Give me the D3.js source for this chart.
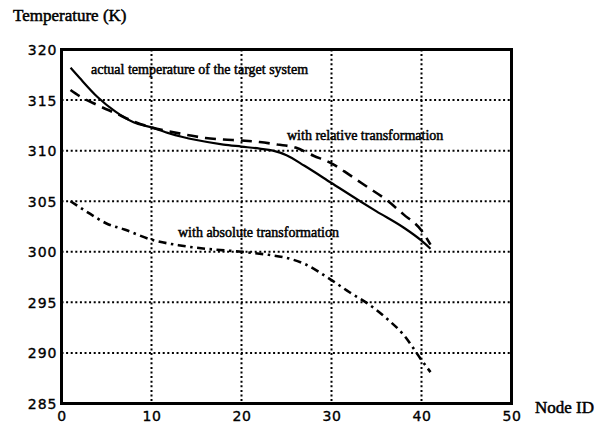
<!DOCTYPE html>
<html>
<head>
<meta charset="utf-8">
<script src="https://cdn.jsdelivr.net/npm/d3@7"></script>
<style>
  html, body { margin: 0; padding: 0; background: #fff; }
  svg { display: block; }
</style>
</head>
<body>
<svg id="chart" width="601" height="423"></svg>
<script>
// ---- data ----
const xTicks = [0, 10, 20, 30, 40, 50];
const yTicks = [285, 290, 295, 300, 305, 310, 315, 320];

const actualX = [1, 2, 4, 6, 8, 10, 12, 15, 18, 20, 22, 23.5, 25, 27, 30, 33, 35, 38, 40, 41];
const actualT = [318.2, 317.2, 315.3, 313.85, 312.8, 312.3, 311.7, 311.05, 310.6, 310.4, 310.2, 310.0, 309.55, 308.5, 306.8, 305.1, 304.0, 302.4, 301.1, 300.3];

const relativeX = [1, 2, 4, 6, 8, 10, 12, 14, 16, 18, 20, 22, 24, 26, 28, 30, 32, 34, 36, 38, 40, 41];
const relativeT = [316.0, 315.4, 314.5, 313.7, 312.9, 312.3, 311.9, 311.55, 311.25, 311.1, 311.0, 310.85, 310.6, 310.3, 309.5, 308.75, 307.6, 306.4, 305.2, 303.7, 302.1, 300.7];

const absoluteX = [1, 3, 5, 7, 10, 13, 16, 20, 23, 25, 27, 30, 32, 34, 36, 38, 40, 41];
const absoluteT = [305.0, 303.85, 302.8, 302.2, 301.2, 300.65, 300.3, 300.0, 299.7, 299.4, 298.8, 297.2, 296.0, 294.9, 293.5, 291.8, 289.3, 288.1];

const labels = {
  yTitle: "Temperature (K)",
  xTitle: "Node ID",
  actual: "actual temperature of the target system",
  relative: "with relative transformation",
  absolute: "with absolute transformation"
};

// ---- drawing ----
const svg = d3.select("#chart");
const x = d3.scaleLinear().domain([0, 50]).range([61.5, 511.5]);
const y = d3.scaleLinear().domain([285, 320]).range([403.5, 49.5]);

const serif = "'Liberation Serif', 'Times New Roman', serif";
const sans = "'DejaVu Sans', sans-serif";

// grid
const g = svg.append("g");
g.selectAll("line.gx").data(xTicks.slice(1, -1)).join("line")
  .attr("x1", d => x(d)).attr("x2", d => x(d))
  .attr("y1", y(320)).attr("y2", y(285))
  .attr("stroke", "#000").attr("stroke-width", 2)
  .attr("stroke-dasharray", "2,2.6");
g.selectAll("line.gy").data(yTicks.slice(1, -1)).join("line")
  .attr("y1", d => y(d)).attr("y2", d => y(d))
  .attr("x1", x(0)).attr("x2", x(50))
  .attr("stroke", "#000").attr("stroke-width", 2)
  .attr("stroke-dasharray", "2,2.6");

// axes via d3 axis (labels only), frame drawn separately
const yAxis = d3.axisLeft(y).tickValues(yTicks).tickSize(0).tickPadding(0).tickFormat(d3.format("d"));
const ya = svg.append("g").attr("transform", `translate(${x(0) - 4},0)`).call(yAxis);
ya.select(".domain").remove();
ya.selectAll("text")
  .attr("font-family", sans).attr("font-size", 14)
  .attr("letter-spacing", "1px")
  .attr("fill", "#000").attr("stroke", "#000").attr("stroke-width", 0.35)
  .attr("dy", "0.36em");

const xAxis = d3.axisBottom(x).tickValues(xTicks).tickSize(0).tickPadding(0).tickFormat(d3.format("d"));
const xa = svg.append("g").attr("transform", `translate(0,${y(285)})`).call(xAxis);
xa.select(".domain").remove();
xa.selectAll("text")
  .attr("font-family", sans).attr("font-size", 14)
  .attr("letter-spacing", "0.5px")
  .attr("fill", "#000").attr("stroke", "#000").attr("stroke-width", 0.35)
  .attr("y", 17).attr("dy", 0);

// frame
svg.append("rect")
  .attr("x", x(0)).attr("y", y(320))
  .attr("width", x(50) - x(0)).attr("height", y(285) - y(320))
  .attr("fill", "none").attr("stroke", "#000").attr("stroke-width", 3);

// lines
const line = d3.line().x(d => x(d[0])).y(d => y(d[1])).curve(d3.curveMonotoneX);
const zip = (xs, ts) => xs.map((v, i) => [v, ts[i]]);

svg.append("path").datum(zip(actualX, actualT))
  .attr("d", line).attr("fill", "none").attr("stroke", "#000").attr("stroke-width", 2.2);
svg.append("path").datum(zip(relativeX, relativeT))
  .attr("d", line).attr("fill", "none").attr("stroke", "#000").attr("stroke-width", 2.6)
  .attr("stroke-dasharray", "11,7");
svg.append("path").datum(zip(absoluteX, absoluteT))
  .attr("d", line).attr("fill", "none").attr("stroke", "#000").attr("stroke-width", 2.6)
  .attr("stroke-dasharray", "8,4.5,2.5,4.5");

// texts
function txt(s, px, py, size, anchor) {
  svg.append("text").attr("x", px).attr("y", py)
    .attr("font-family", serif).attr("font-size", size)
    .attr("text-anchor", anchor || "start")
    .attr("fill", "#000").attr("stroke", "#000").attr("stroke-width", 0.5)
    .text(s);
}
txt(labels.yTitle, 13, 21, 17);
txt(labels.xTitle, 535, 413, 17);
txt(labels.actual, 91, 74, 14);
txt(labels.relative, 287, 140, 14);
txt(labels.absolute, 178, 237, 14);
</script>
</body>
</html>
